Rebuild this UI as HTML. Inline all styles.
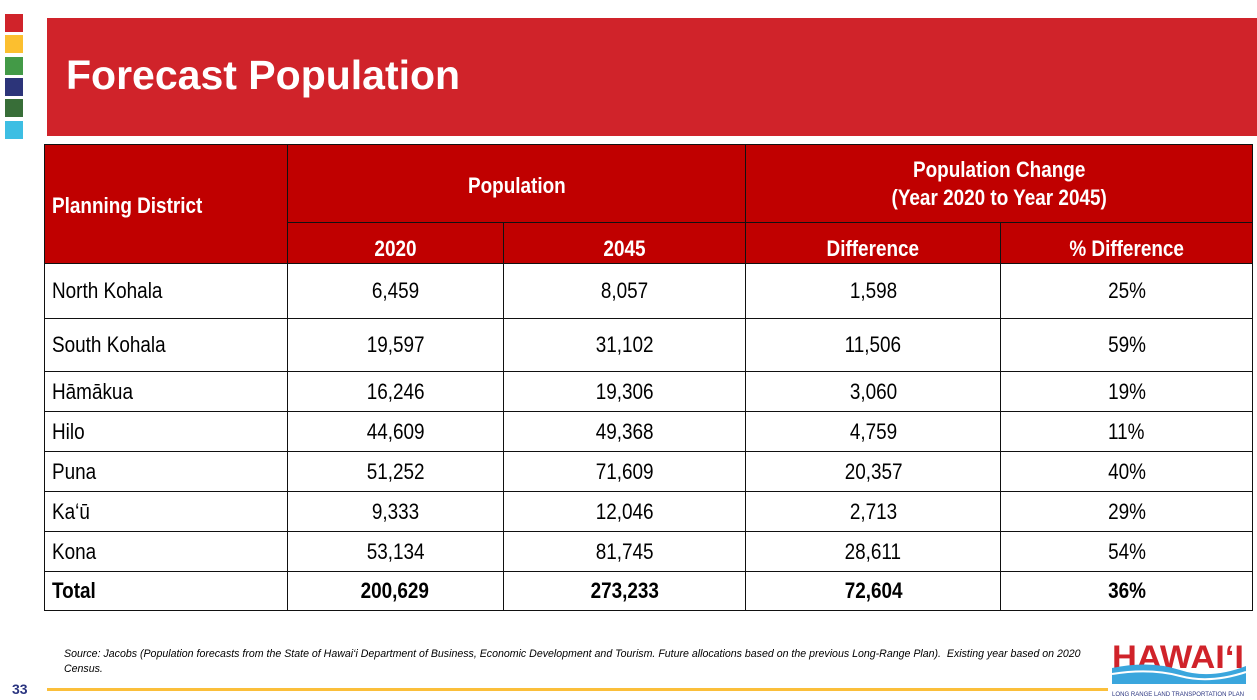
<!DOCTYPE html>
<html><head><meta charset="utf-8"><style>
body{margin:0;width:1257px;height:700px;background:#fff;position:relative;overflow:hidden;font-family:"Liberation Sans",sans-serif}
.sq{position:absolute;left:5px;width:18px;height:18px}
#banner{position:absolute;left:47px;top:18px;width:1210px;height:118px;background:#d0232a}
#title{position:absolute;left:66px;top:52px;color:#fff;font:bold 41px "Liberation Sans",sans-serif}
table{position:absolute;left:44px;top:144px;width:1209px;border-collapse:collapse}
td,th{border:1.5px solid #111;font-size:22px;text-align:center;padding:0}
th{background:#c00000;color:#fff;font-weight:bold}
td.l,th.l{text-align:left;padding-left:7px}
tr.tot td{font-weight:bold}
.n{display:inline-block;transform:scaleX(.86);transform-origin:center}
.l .n{transform-origin:left}
#src{position:absolute;left:64px;top:647px;width:1045px;font:italic 10.6px "Liberation Sans",sans-serif;line-height:15px;color:#000}
#line{position:absolute;left:47px;top:688px;width:1061px;height:3px;background:#fbbf3a}
#pg{position:absolute;left:12px;top:681px;font:bold 14px "Liberation Sans",sans-serif;color:#2b3580}
#logo{position:absolute;left:1110px;top:640px;width:138px;height:58px}
</style></head><body>
<div class="sq" style="top:14px;background:#d0232a"></div>
<div class="sq" style="top:35px;background:#fcbf2f"></div>
<div class="sq" style="top:57px;background:#439a47"></div>
<div class="sq" style="top:78px;background:#2c3479"></div>
<div class="sq" style="top:99px;background:#386e38"></div>
<div class="sq" style="top:121px;background:#3dbee3"></div>
<div id="banner"></div>
<div id="title">Forecast Population</div>
<table>
<colgroup><col style="width:243px"><col style="width:216px"><col style="width:243px"><col style="width:255px"><col style="width:252px"></colgroup>
<tr style="height:78px"><th rowspan="2" class="l" style="padding-top:4px"><span class="n">Planning District</span></th><th colspan="2" style="vertical-align:top;padding-top:28px"><span class="n">Population</span></th><th colspan="2" style="line-height:28px"><span class="n">Population Change<br>(Year 2020 to Year 2045)</span></th></tr>
<tr style="height:41px"><th style="padding-top:12px"><span class="n">2020</span></th><th style="padding-top:12px"><span class="n">2045</span></th><th style="padding-top:12px"><span class="n">Difference</span></th><th style="padding-top:12px"><span class="n">% Difference</span></th></tr>
<tr style="height:55px"><td class="l"><span class="n">North Kohala</span></td><td><span class="n">6,459</span></td><td><span class="n">8,057</span></td><td><span class="n">1,598</span></td><td><span class="n">25%</span></td></tr>
<tr style="height:53px"><td class="l"><span class="n">South Kohala</span></td><td><span class="n">19,597</span></td><td><span class="n">31,102</span></td><td><span class="n">11,506</span></td><td><span class="n">59%</span></td></tr>
<tr style="height:40px"><td class="l"><span class="n">Hāmākua</span></td><td><span class="n">16,246</span></td><td><span class="n">19,306</span></td><td><span class="n">3,060</span></td><td><span class="n">19%</span></td></tr>
<tr style="height:40px"><td class="l"><span class="n">Hilo</span></td><td><span class="n">44,609</span></td><td><span class="n">49,368</span></td><td><span class="n">4,759</span></td><td><span class="n">11%</span></td></tr>
<tr style="height:40px"><td class="l"><span class="n">Puna</span></td><td><span class="n">51,252</span></td><td><span class="n">71,609</span></td><td><span class="n">20,357</span></td><td><span class="n">40%</span></td></tr>
<tr style="height:40px"><td class="l"><span class="n">Ka‘ū</span></td><td><span class="n">9,333</span></td><td><span class="n">12,046</span></td><td><span class="n">2,713</span></td><td><span class="n">29%</span></td></tr>
<tr style="height:40px"><td class="l"><span class="n">Kona</span></td><td><span class="n">53,134</span></td><td><span class="n">81,745</span></td><td><span class="n">28,611</span></td><td><span class="n">54%</span></td></tr>
<tr class="tot" style="height:39px"><td class="l"><span class="n">Total</span></td><td><span class="n">200,629</span></td><td><span class="n">273,233</span></td><td><span class="n">72,604</span></td><td><span class="n">36%</span></td></tr>
</table>
<div id="src">Source: Jacobs (Population forecasts from the State of Hawai‘i Department of Business, Economic Development and Tourism. Future allocations based on the previous Long-Range Plan).&nbsp; Existing year based on 2020 Census.</div>
<div id="line"></div>
<div id="pg">33</div>
<svg id="logo" viewBox="0 0 138 58">
<text x="2" y="28" font-family="Liberation Sans" font-weight="bold" font-size="32" fill="#d0232a" textLength="132" lengthAdjust="spacingAndGlyphs">HAWAIʻI</text>
<path d="M2 28 Q40 20 70 30 T136 26 L136 44 L2 44 Z" fill="#3aa6dd"/>
<path d="M2 34 Q40 28 70 36 T136 32" stroke="#fff" stroke-width="2" fill="none"/>
<text x="2" y="56" font-family="Liberation Sans" font-size="6" fill="#2b3580" textLength="132" lengthAdjust="spacingAndGlyphs">LONG RANGE LAND TRANSPORTATION PLAN</text>
</svg>
</body></html>
